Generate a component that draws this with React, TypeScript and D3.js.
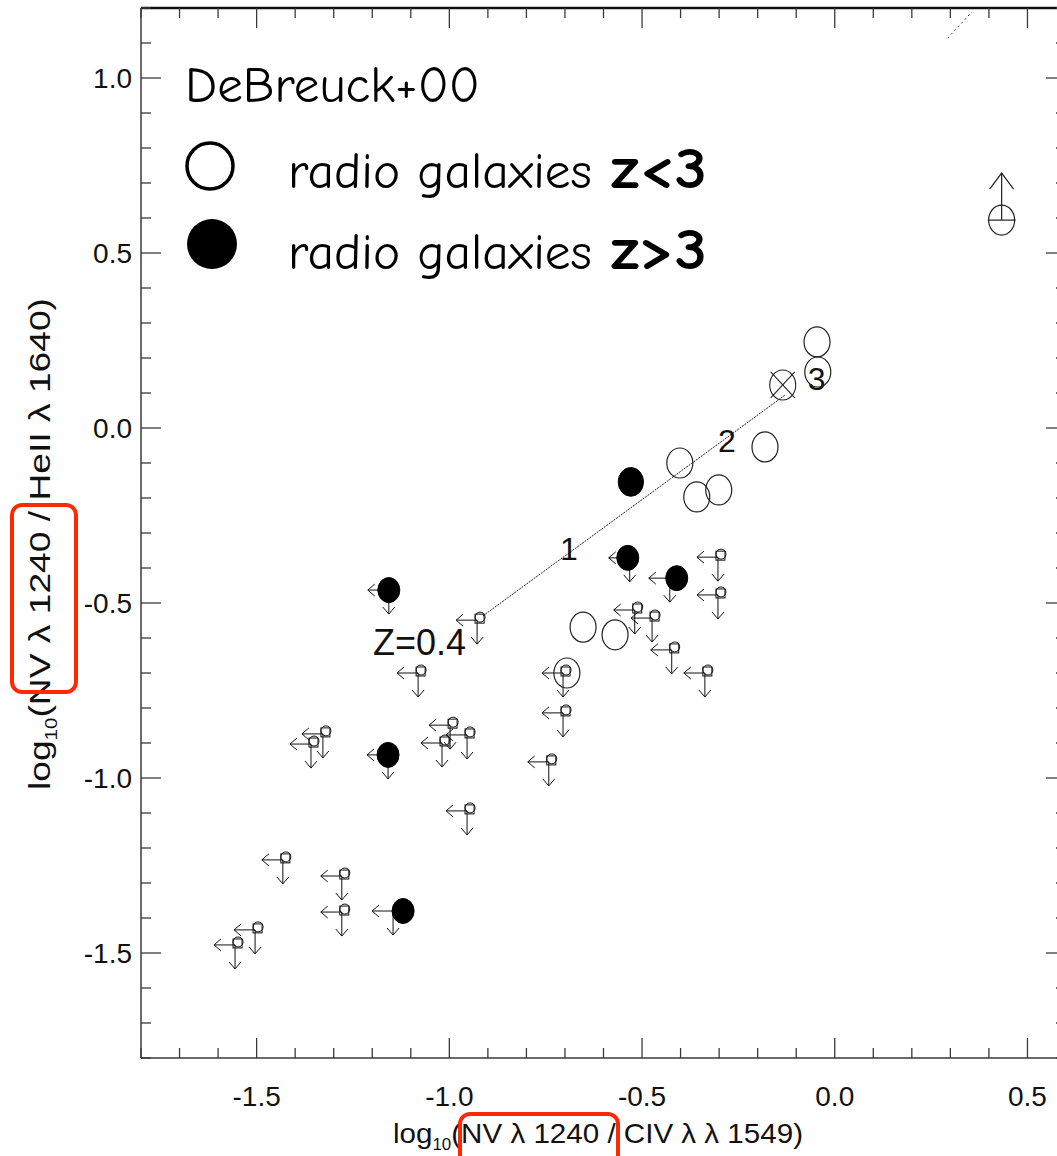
import React from 'react';
import * as d3 from 'd3';

const W = 1057;
const H = 1156;

const xDomain: [number, number] = [-1.8, 0.6];
const yDomain: [number, number] = [-1.8, 1.2];
const xTickValues = [-1.5, -1.0, -0.5, 0.0, 0.5];
const yTickValues = [-1.5, -1.0, -0.5, 0.0, 0.5, 1.0];

// radio galaxies z<3 (open circles)
const openCircles: [number, number][] = [
  [-0.402, -0.100],
  [-0.358, -0.197],
  [-0.301, -0.177],
  [-0.181, -0.054],
  [-0.046, 0.246],
  [-0.044, 0.160],
  [-0.653, -0.569],
  [-0.570, -0.591],
  [-0.695, -0.700],
];
// open circle with a cross
const crossedCircles: [number, number][] = [[-0.135, 0.123]];
// open circle with lower limit (up arrow) and bar
const lowerLimitCircles: [number, number][] = [[0.433, 0.594]];

// radio galaxies z>3 (filled circles): x, y, size
const filledCircles: [number, number, number][] = [
  [-0.529, -0.154, 1.15],
  [-0.537, -0.371, 1],
  [-0.410, -0.429, 1],
  [-1.157, -0.463, 1],
  [-1.159, -0.934, 1],
  [-1.120, -1.380, 1],
];
// upper limits of the filled circles (arrows only)
const filledLimits: [number, number][] = [
  [-0.532, -0.371],
  [-0.428, -0.429],
  [-1.157, -0.463],
  [-1.159, -0.934],
  [-1.146, -1.380],
];

// upper limits (small square symbol with left and down arrows)
const upperLimits: [number, number][] = [
  [-0.928, -0.549],
  [-1.081, -0.700],
  [-1.328, -0.874],
  [-1.359, -0.903],
  [-0.998, -0.849],
  [-0.954, -0.877],
  [-1.019, -0.900],
  [-0.954, -1.094],
  [-1.432, -1.234],
  [-1.279, -1.280],
  [-1.279, -1.383],
  [-1.504, -1.434],
  [-1.556, -1.477],
  [-0.705, -0.700],
  [-0.705, -0.814],
  [-0.742, -0.954],
  [-0.519, -0.520],
  [-0.474, -0.543],
  [-0.423, -0.634],
  [-0.337, -0.700],
  [-0.303, -0.369],
  [-0.303, -0.477],
];

// model track
const trackX = [-0.913, -0.129];
const trackY = [-0.537, 0.094];
const trackLabelText = ['Z=0.4', '1', '2', '3'];
const trackLabelX = [-1.198, -0.713, -0.303, -0.070];
const trackLabelY = [-0.649, -0.377, -0.069, 0.109];

// stray dotted fragment at top right
const fragX = [0.293, 0.356];
const fragY = [1.114, 1.189];

const legendTitle = 'DeBreuck+00';
const legendLabels = ['radio galaxies', 'radio galaxies'];
const legendZ = ['z<3', 'z>3'];

const AXIS = '#3a3a3a';
const RED = '#ff2a05';
const SANS = 'Liberation Sans, Arial, Helvetica, sans-serif';
const COMIC = '"Comic Sans MS", "Comic Neue", "Open Sans", sans-serif';

const left = 141;
const right = 1066;
const top = 8;
const bottom = 1058;

export default function App() {
  const x = d3.scaleLinear().domain(xDomain).range([left, right]);
  const y = d3.scaleLinear().domain(yDomain).range([bottom, top]);

  const xMinor = d3.range(-18, 7).map((i) => i / 10);
  const yMinor = d3.range(-18, 13).map((i) => i / 10);
  const isMajor = (v: number) => Math.abs(v * 2 - Math.round(v * 2)) < 1e-6;

  const line = d3
    .line<number>()
    .x((_, i) => x(trackX[i]))
    .y((_, i) => y(trackY[i]));
  const frag = d3
    .line<number>()
    .x((_, i) => x(fragX[i]))
    .y((_, i) => y(fragY[i]));

  const limitGlyph = (cx: number, cy: number, key: string, withSymbol: boolean) => (
    <g key={key} stroke="#111" strokeWidth={1} fill="none">
      <line x1={cx} y1={cy} x2={cx - 21} y2={cy} />
      <polyline points={`${cx - 14},${cy - 6} ${cx - 21},${cy} ${cx - 14},${cy + 6}`} />
      <line x1={cx} y1={cy} x2={cx} y2={cy + 24} />
      <polyline points={`${cx - 6},${cy + 17} ${cx},${cy + 24} ${cx + 6},${cy + 17}`} />
      {withSymbol && (
        <>
          <rect x={cx - 2} y={cy - 6} width={9} height={9} />
          <circle cx={cx + 3} cy={cy - 3} r={5} />
        </>
      )}
    </g>
  );

  return (
    <svg
      width={W}
      height={H}
      style={{ position: 'absolute', left: 0, top: 0, background: '#fff' }}
    >
      <rect x={0} y={0} width={W} height={H} fill="#fff" />

      {/* frame */}
      <line x1={left} y1={top} x2={left} y2={bottom} stroke={AXIS} strokeWidth={1.5} />
      <line x1={left} y1={bottom} x2={right} y2={bottom} stroke={AXIS} strokeWidth={1.5} />
      <line x1={right} y1={top} x2={right} y2={bottom} stroke={AXIS} strokeWidth={1.5} />
      <line x1={left} y1={top} x2={right} y2={top} stroke="#111" strokeWidth={2.5} />

      {/* x ticks top & bottom */}
      {xMinor.map((v) => {
        const len = isMajor(v) ? 20 : 10;
        const px = x(v);
        return (
          <g key={`xt${v}`} stroke={AXIS} strokeWidth={1.3}>
            <line x1={px} y1={bottom} x2={px} y2={bottom - len} />
            <line x1={px} y1={top} x2={px} y2={top + len} />
          </g>
        );
      })}
      {/* y ticks left & right */}
      {yMinor.map((v) => {
        const len = isMajor(v) ? 20 : 10;
        const py = y(v);
        return (
          <g key={`yt${v}`} stroke={AXIS} strokeWidth={1.3}>
            <line x1={left} y1={py} x2={left + len} y2={py} />
            <line x1={right} y1={py} x2={right - len} y2={py} />
          </g>
        );
      })}

      {/* tick labels */}
      {xTickValues.map((v) => (
        <text
          key={`xl${v}`}
          x={x(v)}
          y={1106}
          textAnchor="middle"
          fontFamily={SANS}
          fontSize={28}
          fill="#111"
        >
          {d3.format('.1f')(v).replace('−', '-')}
        </text>
      ))}
      {yTickValues.map((v) => (
        <text
          key={`yl${v}`}
          x={132}
          y={y(v) + 10}
          textAnchor="end"
          fontFamily={SANS}
          fontSize={28}
          fill="#111"
        >
          {d3.format('.1f')(v).replace('−', '-')}
        </text>
      ))}

      {/* axis titles */}
      <text
        x={393}
        y={1143}
        fontFamily={SANS}
        fontSize={28}
        fill="#111"
        textLength={410}
        lengthAdjust="spacingAndGlyphs"
      >
        log
        <tspan fontSize={16} dy={7}>
          10
        </tspan>
        <tspan dy={-7}>(NV λ 1240 / CIV λ λ 1549)</tspan>
      </text>
      <text
        transform={`translate(50,790) rotate(-90)`}
        fontFamily={SANS}
        fontSize={29}
        fill="#111"
        textLength={492}
        lengthAdjust="spacingAndGlyphs"
      >
        log
        <tspan fontSize={16} dy={7}>
          10
        </tspan>
        <tspan dy={-7}>(NV λ 1240 / HeII λ 1640)</tspan>
      </text>

      {/* red highlight boxes */}
      <rect x={12} y={505} width={64} height={187} rx={10} fill="none" stroke={RED} strokeWidth={4} />
      <rect x={460} y={1114} width={158} height={60} rx={10} fill="none" stroke={RED} strokeWidth={4} />

      {/* model track */}
      <path d={line([0, 1]) || ''} fill="none" stroke="#222" strokeWidth={1} strokeDasharray="2 1" />
      <path d={frag([0, 1]) || ''} fill="none" stroke="#444" strokeWidth={1} strokeDasharray="2 3" />
      {trackLabelText.map((t, i) => (
        <text
          key={`tl${i}`}
          x={x(trackLabelX[i])}
          y={y(trackLabelY[i])}
          fontFamily={SANS}
          fontSize={i === 0 ? 36 : 32}
          fill="#111"
        >
          {t}
        </text>
      ))}

      {/* upper limits */}
      {upperLimits.map(([vx, vy], i) => limitGlyph(x(vx), y(vy), `ul${i}`, true))}
      {filledLimits.map(([vx, vy], i) => limitGlyph(x(vx), y(vy), `fl${i}`, false))}

      {/* open circles */}
      {openCircles.map(([vx, vy], i) => (
        <ellipse key={`oc${i}`} cx={x(vx)} cy={y(vy)} rx={13} ry={15} fill="none" stroke="#222" strokeWidth={1.2} />
      ))}
      {crossedCircles.map(([vx, vy], i) => {
        const cx = x(vx);
        const cy = y(vy);
        return (
          <g key={`cc${i}`} stroke="#222" strokeWidth={1.1} fill="none">
            <ellipse cx={cx} cy={cy} rx={13} ry={15} />
            <line x1={cx - 12} y1={cy - 13} x2={cx + 12} y2={cy + 13} />
            <line x1={cx + 12} y1={cy - 13} x2={cx - 12} y2={cy + 13} />
          </g>
        );
      })}
      {lowerLimitCircles.map(([vx, vy], i) => {
        const cx = x(vx);
        const cy = y(vy);
        return (
          <g key={`lc${i}`} stroke="#222" strokeWidth={1.2} fill="none">
            <ellipse cx={cx} cy={cy} rx={13} ry={15} />
            <line x1={cx - 14} y1={cy} x2={cx + 14} y2={cy} />
            <line x1={cx} y1={cy} x2={cx} y2={cy - 47} />
            <polyline points={`${cx - 12},${cy - 31} ${cx},${cy - 47} ${cx + 12},${cy - 31}`} />
          </g>
        );
      })}

      {/* filled circles */}
      {filledCircles.map(([vx, vy, s], i) => (
        <ellipse key={`fc${i}`} cx={x(vx)} cy={y(vy)} rx={11 * s} ry={12.5 * s} fill="#000" stroke="#000" strokeWidth={1} />
      ))}

      {/* legend */}
      <text x={185} y={102} fontFamily={COMIC} fontSize={50} fill="#000" textLength={295} lengthAdjust="spacingAndGlyphs">
        {legendTitle}
      </text>
      <circle cx={210} cy={166} r={23} fill="none" stroke="#000" strokeWidth={3.5} />
      <circle cx={212} cy={244} r={25} fill="#000" />
      {legendLabels.map((t, i) => (
        <g key={`lg${i}`}>
          <text x={288} y={188 + i * 81} fontFamily={COMIC} fontSize={50} fill="#000" textLength={304} lengthAdjust="spacingAndGlyphs">
            {t}
          </text>
          <text x={611} y={188 + i * 81} fontFamily={COMIC} fontSize={58} fontWeight={600} fill="#000" textLength={96} lengthAdjust="spacingAndGlyphs">
            {legendZ[i]}
          </text>
        </g>
      ))}
    </svg>
  );
}
